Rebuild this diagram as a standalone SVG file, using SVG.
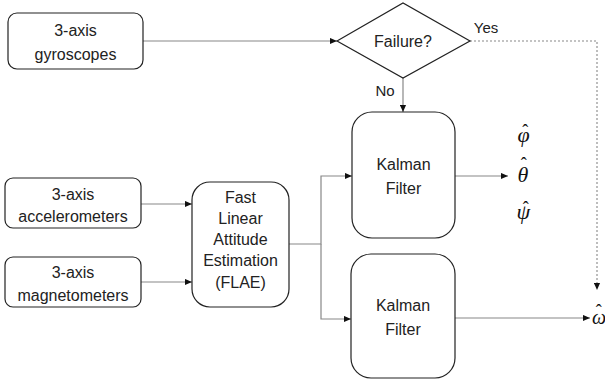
<svg xmlns="http://www.w3.org/2000/svg" width="605" height="387" viewBox="0 0 605 387">
<defs>
<marker id="ah" viewBox="0 0 8 8" refX="8" refY="4" markerWidth="7" markerHeight="7" markerUnits="userSpaceOnUse" orient="auto">
<path d="M0,0.5 L8,4 L0,7.5 z" fill="#111"/>
</marker>
</defs>
<style>
.box{fill:#fff;stroke:#222;stroke-width:1.2}
.t{font-family:"Liberation Sans",Arial,sans-serif;font-size:16px;fill:#222;text-anchor:middle}
.c{fill:none;stroke:#888;stroke-width:1.2}
.d{fill:none;stroke:#888;stroke-width:1.1;stroke-dasharray:2,2}
.g{font-family:"Liberation Serif","Times New Roman",serif;font-style:italic;font-size:22px;fill:#111}
.h{font-style:normal;font-size:18px}
</style>
<g id="connectors">
<path class="c" d="M143,41 H337" marker-end="url(#ah)"/>
<path class="c" d="M403,78 V112" marker-end="url(#ah)"/>
<path class="d" d="M470,41 H597 V290" marker-end="url(#ah)"/>
<path class="c" d="M141,204 H192" marker-end="url(#ah)"/>
<path class="c" d="M141,282 H192" marker-end="url(#ah)"/>
<path class="c" d="M289,244 H321 V176 H352" marker-end="url(#ah)"/>
<path class="c" d="M321,244 V319 H351" marker-end="url(#ah)"/>
<path class="c" d="M455,176 H508" marker-end="url(#ah)"/>
<path class="c" d="M455,318 H590" marker-end="url(#ah)"/>
<text class="t" x="486" y="33" style="font-size:15px">Yes</text>
<text class="t" x="385" y="96" style="font-size:15px">No</text>
</g>
<g id="gyro">
<rect class="box" x="8" y="13" width="135" height="56" rx="9"/>
<text class="t" x="75.5" y="36">3-axis</text>
<text class="t" x="75.5" y="60">gyroscopes</text>
</g>
<g id="failure">
<path class="box" d="M337,41 L403,3 L470,41 L403,78 z"/>
<text class="t" x="403" y="47">Failure?</text>
</g>
<g id="accel">
<rect class="box" x="5" y="178" width="136" height="50" rx="8"/>
<text class="t" x="73" y="200">3-axis</text>
<text class="t" x="73" y="222">accelerometers</text>
</g>
<g id="mag">
<rect class="box" x="5" y="257" width="136" height="50" rx="8"/>
<text class="t" x="73" y="278">3-axis</text>
<text class="t" x="73" y="301">magnetometers</text>
</g>
<g id="flae">
<rect class="box" x="192" y="182" width="97" height="125" rx="18"/>
<text class="t" x="240.5" y="203">Fast</text>
<text class="t" x="240.5" y="224">Linear</text>
<text class="t" x="240.5" y="245">Attitude</text>
<text class="t" x="240.5" y="266">Estimation</text>
<text class="t" x="240.5" y="288">(FLAE)</text>
</g>
<g id="kalman1">
<rect class="box" x="352" y="112" width="103" height="126" rx="20"/>
<text class="t" x="403.5" y="170">Kalman</text>
<text class="t" x="403.5" y="194">Filter</text>
</g>
<g id="kalman2">
<rect class="box" x="351" y="254" width="104" height="124" rx="20"/>
<text class="t" x="403" y="311">Kalman</text>
<text class="t" x="403" y="335">Filter</text>
</g>
<g id="outputs">
<text class="g" x="517.5" y="142">φ<tspan class="h" dx="-7.5" dy="-5">ˆ</tspan></text>
<text class="g" x="517.5" y="182">θ<tspan class="h" dx="-7.5" dy="-12">ˆ</tspan></text>
<text class="g" x="516.5" y="219">ψ<tspan class="h" dx="-7.5" dy="-5">ˆ</tspan></text>
<text class="g" x="592" y="324" style="font-size:20px">ω<tspan class="h" dx="-10.5" dy="-7">ˆ</tspan></text>
</g>
</svg>
